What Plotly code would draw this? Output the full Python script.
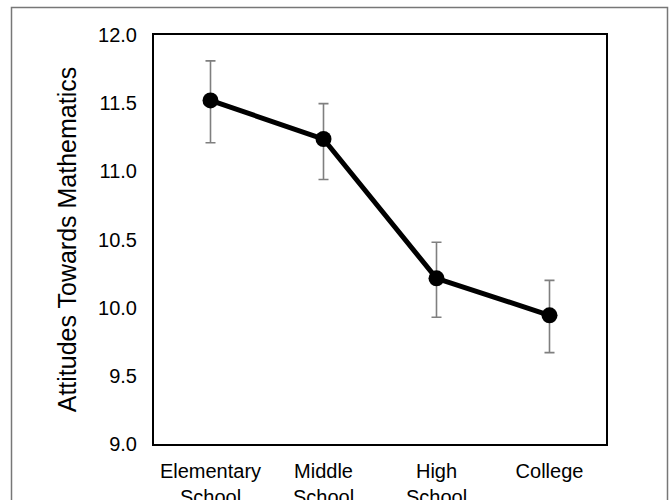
import plotly.graph_objects as go

categories = ["Elementary<br>School", "Middle<br>School", "High<br>School", "College"]
means = [11.52, 11.237, 10.215, 9.944]
err_upper = [0.29, 0.26, 0.265, 0.256]
err_lower = [0.31, 0.297, 0.285, 0.274]
y_ticks = [9.0, 9.5, 10.0, 10.5, 11.0, 11.5, 12.0]
y_tick_labels = ["9.0", "9.5", "10.0", "10.5", "11.0", "11.5", "12.0"]

W, H = 670, 500
L, R, T, B = 154, 64, 35, 56
pw, ph = W - L - R, H - T - B

fig = go.Figure()
fig.add_trace(go.Scatter(
    x=categories, y=means, mode="lines+markers",
    line=dict(color="black", width=5),
    marker=dict(color="black", size=16),
    error_y=dict(type="data", symmetric=False, array=err_upper, arrayminus=err_lower,
                 color="#7f7f7f", thickness=1.6, width=5),
    showlegend=False,
))

def px_x(x):
    return (x - L) / pw

def px_y(y):
    return (H - B - y) / ph

fig.add_shape(type="rect", xref="paper", yref="paper",
              x0=px_x(11.5), x1=px_x(667.5), y0=px_y(520), y1=px_y(7.5),
              line=dict(color="#777777", width=1.5), fillcolor="rgba(0,0,0,0)", layer="below")

fig.update_layout(
    width=W, height=H,
    margin=dict(l=L, r=R, t=T, b=B, pad=0, autoexpand=False),
    paper_bgcolor="white", plot_bgcolor="white",
    font=dict(family="Liberation Sans, Arial, sans-serif", color="black", size=20),
    xaxis=dict(type="category", range=[-0.5, 3.5], showgrid=False, zeroline=False,
               showline=True, linecolor="black", linewidth=2, mirror=True, automargin=False,
               ticks="outside", ticklen=8, tickcolor="rgba(0,0,0,0)", tickfont=dict(size=20)),
    yaxis=dict(range=[9.0, 12.0], tickvals=y_ticks, ticktext=y_tick_labels,
               showgrid=False, zeroline=False, showline=True, linecolor="black", automargin=False,
               linewidth=2, mirror=True, ticks="outside", ticklen=11, tickcolor="rgba(0,0,0,0)",
               tickfont=dict(size=20),
               title=dict(text="Attitudes Towards Mathematics", font=dict(size=25), standoff=14)),
)

fig.write_html("out.html", config={"displayModeBar": False})
with open("out.html", "r", encoding="utf-8") as f:
    html = f.read()
html = html.replace("<head>", "<head><style>html,body{margin:0;padding:0;overflow:hidden;}</style>", 1)
with open("out.html", "w", encoding="utf-8") as f:
    f.write(html)
